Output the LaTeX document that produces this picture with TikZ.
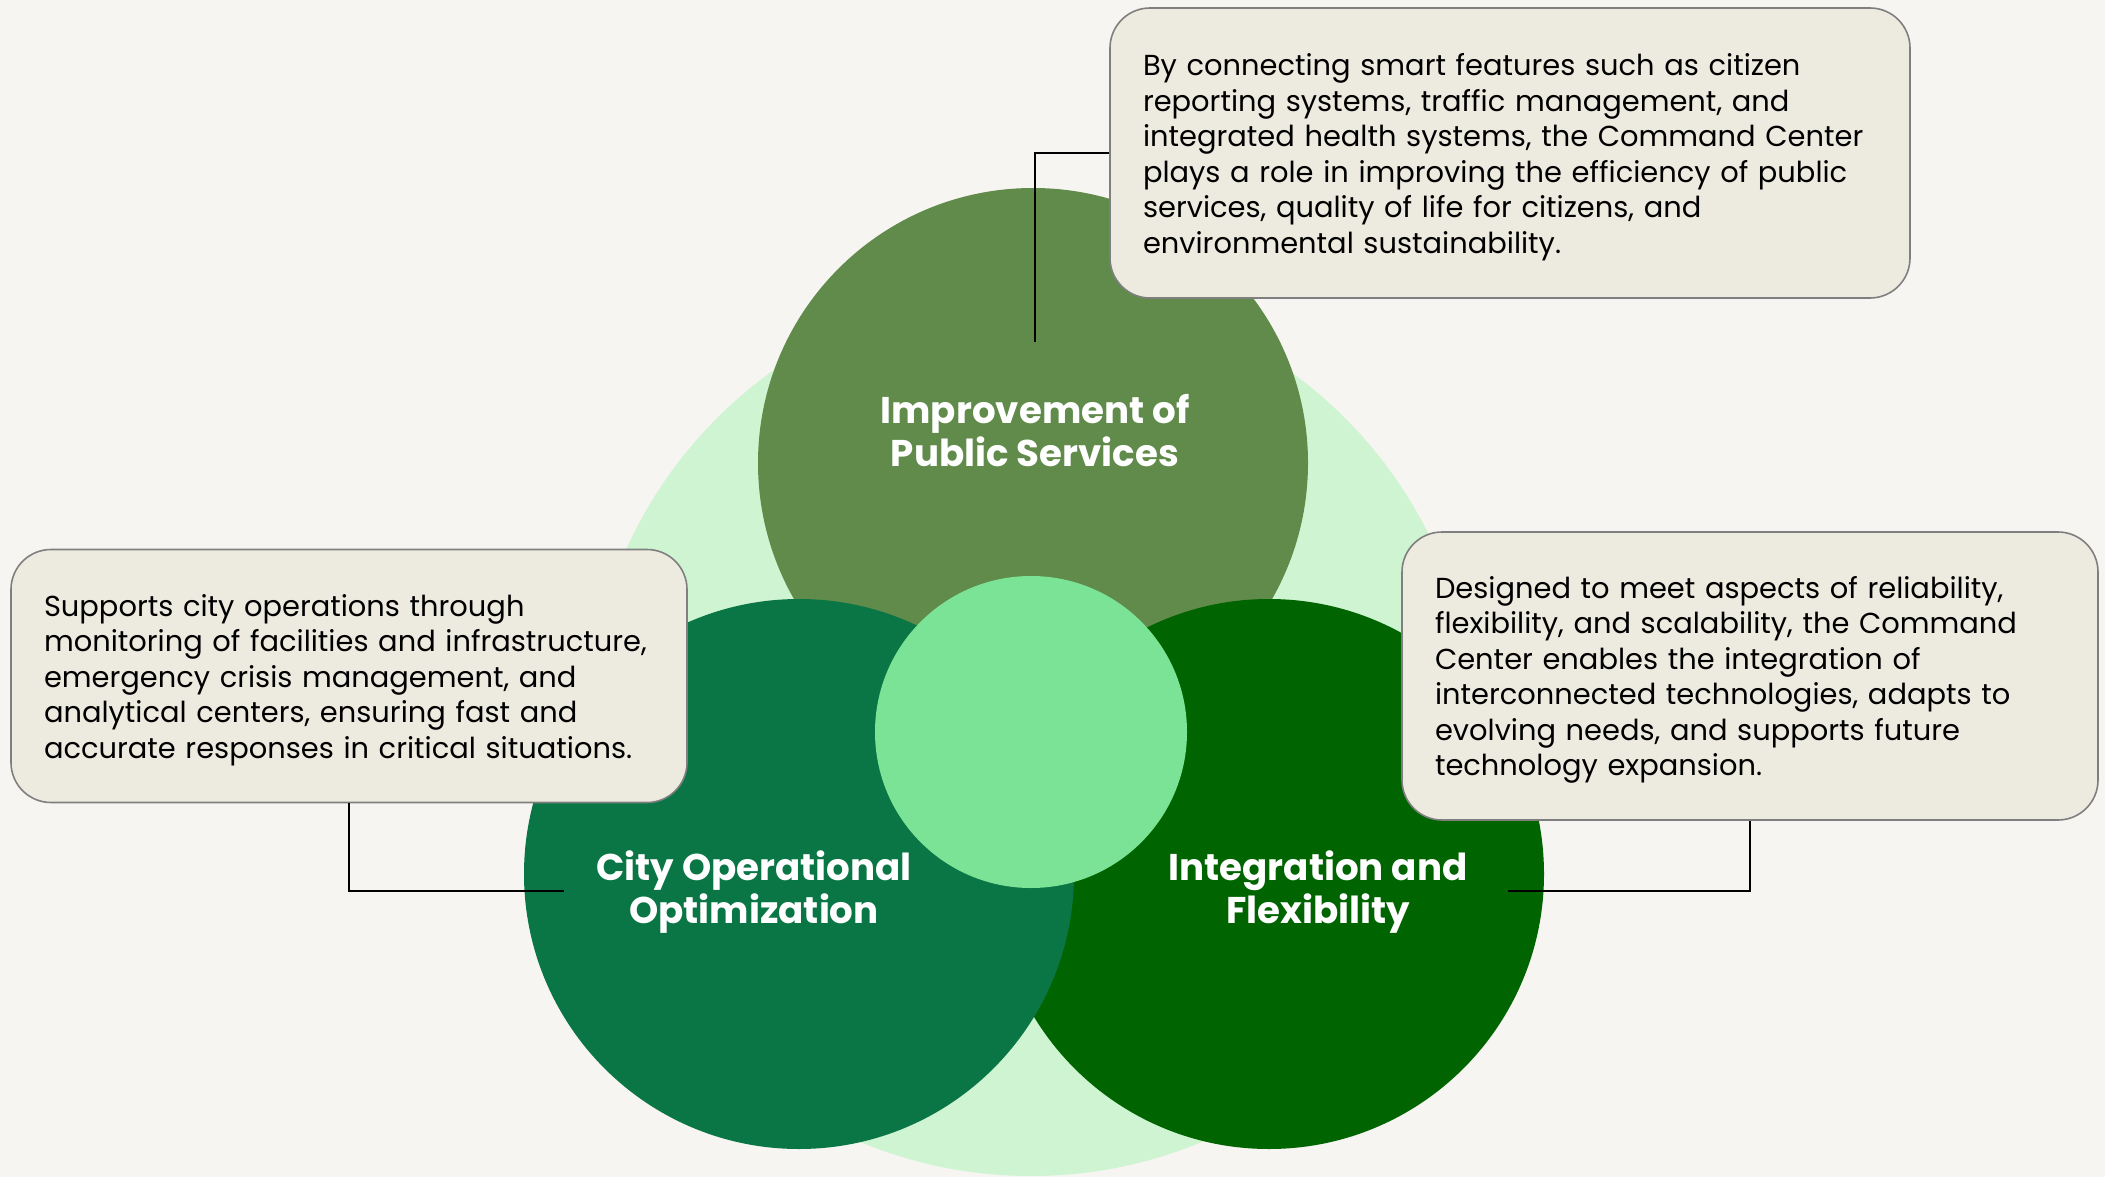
\documentclass[tikz,border=0pt]{standalone}
\usepackage{fontspec}
\setmainfont{Poppins}
\definecolor{bgc}{HTML}{F6F5F1}
\definecolor{lightg}{HTML}{CFF4D2}
\definecolor{oliveg}{HTML}{618B4A}
\definecolor{tealg}{HTML}{0B7645}
\definecolor{darkg}{HTML}{006400}
\definecolor{centg}{HTML}{7BE395}
\definecolor{boxfill}{HTML}{EDEBE0}
\definecolor{boxline}{HTML}{7F7F7F}
\begin{document}
\begin{tikzpicture}[x=1pt,y=-1pt,
  disc/.style={circle,inner sep=0pt,draw=none},
  title/.style={text=white,align=center,font=\bfseries\fontsize{37.2}{43}\selectfont,inner sep=0pt},
  infobox/.style={rectangle,rounded corners=40pt,fill=boxfill,draw=boxline,line width=1.6pt,inner sep=0pt},
  infotext/.style={align=left,inner sep=0pt,font=\fontsize{28.9}{35.5}\selectfont,text=black,yshift=-4pt},
  conn/.style={draw=black,line width=1.6pt}]
\fill[bgc] (0,0) rectangle (2105,1177);
\useasboundingbox (0,0) rectangle (2105,1177);
\node[disc,fill=lightg,minimum size=888pt] (big) at (1031,732) {};
\node[disc,fill=oliveg,minimum size=550pt] (top) at (1033,463) {};
\node[disc,fill=darkg,minimum size=550pt] (right) at (1269,874) {};
\node[disc,fill=tealg,minimum size=550pt] (left) at (799,874) {};
\node[disc,fill=centg,minimum size=312pt] (mid) at (1031,732) {};
\node[title] (ttop) at (1035,431) {Improvement of\\Public Services};
\node[title] (tleft) at (754,892) {City Operational\\Optimization};
\node[title] (tright) at (1318,892) {Integration and\\Flexibility};
\coordinate (c1) at (1035,342);
\coordinate (c2) at (564,891);
\coordinate (c3) at (1508,891);
\node[infobox,minimum width=800pt,minimum height=290pt] (tbox) at (1510,153) {};
\node[infotext,text width=734pt] (ttext) at (tbox.center)
 {By connecting smart features such as citizen\\reporting systems, traffic management, and\\integrated health systems, the Command Center\\plays a role in improving the efficiency of public\\services, quality of life for citizens, and\\environmental sustainability.};
\node[infobox,minimum width=676pt,minimum height=253pt] (lbox) at (349,676) {};
\node[infotext,text width=610pt] (ltext) at (lbox.center)
 {Supports city operations through\\monitoring of facilities and infrastructure,\\emergency crisis management, and\\analytical centers, ensuring fast and\\accurate responses in critical situations.};
\node[infobox,minimum width=696pt,minimum height=288pt] (rbox) at (1750,676) {};
\node[infotext,text width=630pt] (rtext) at (rbox.center)
 {Designed to meet aspects of reliability,\\flexibility, and scalability, the Command\\Center enables the integration of\\interconnected technologies, adapts to\\evolving needs, and supports future\\technology expansion.};
\draw[conn] (tbox.west) -| (c1);
\draw[conn] (lbox.south) |- (c2);
\draw[conn] (rbox.south) |- (c3);
\end{tikzpicture}
\end{document}
